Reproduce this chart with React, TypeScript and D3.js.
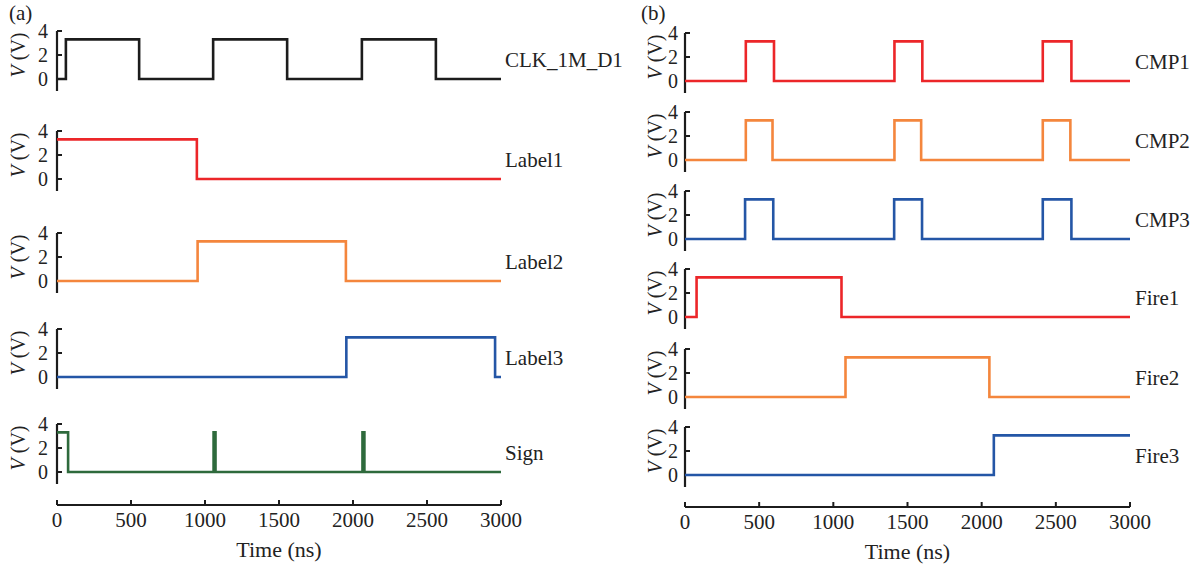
import React from 'react'
import * as d3 from 'd3'

// step signals: [time (ns), voltage] at each transition
const clk1m = [[0, 0], [60, 3.3], [555, 0], [1055, 3.3], [1555, 0], [2060, 3.3], [2560, 0], [3000, 0]]
const label1 = [[0, 3.3], [945, 0], [3000, 0]]
const label2 = [[0, 0], [950, 3.3], [1952, 0], [3000, 0]]
const label3 = [[0, 0], [1955, 3.3], [2960, 0], [3000, 0]]
const sign = [[0, 3.3], [75, 0], [1058, 3.3], [1071, 0], [2064, 3.3], [2077, 0], [3000, 0]]

const cmp1 = [[0, 0], [410, 3.3], [600, 0], [1412, 3.3], [1600, 0], [2412, 3.3], [2605, 0], [3000, 0]]
const cmp2 = [[0, 0], [410, 3.3], [590, 0], [1412, 3.3], [1592, 0], [2412, 3.3], [2598, 0], [3000, 0]]
const cmp3 = [[0, 0], [405, 3.3], [595, 0], [1410, 3.3], [1598, 0], [2412, 3.3], [2605, 0], [3000, 0]]
const fire1 = [[0, 0], [78, 3.3], [1055, 0], [3000, 0]]
const fire2 = [[0, 0], [1082, 3.3], [2052, 0], [3000, 0]]
const fire3 = [[0, 0], [2082, 3.3], [3000, 3.3]]

const xTicks = [0, 500, 1000, 1500, 2000, 2500, 3000]
const yTicks = [0, 2, 4]

const BLACK = '#1c1c1c'
const RED = '#ec2629'
const ORANGE = '#f4863d'
const BLUE = '#2456a6'
const GREEN = '#2e6a3c'

const FONT = '"Liberation Serif", "Times New Roman", serif'

const leftPanel = {
  tag: '(a)', tagX: 9, x0: 57, x1: 501, axisY: 505, labelX: 505, tickGap: 9, yLabelX: 25,
  rows: [
    { name: 'CLK_1M_D1', data: clk1m, color: BLACK, zero: 79 },
    { name: 'Label1', data: label1, color: RED, zero: 179 },
    { name: 'Label2', data: label2, color: ORANGE, zero: 281 },
    { name: 'Label3', data: label3, color: BLUE, zero: 377 },
    { name: 'Sign', data: sign, color: GREEN, zero: 472 },
  ],
}

const rightPanel = {
  tag: '(b)', tagX: 641, x0: 685, x1: 1130, axisY: 507, labelX: 1135, tickGap: 7, yLabelX: 662,
  rows: [
    { name: 'CMP1', data: cmp1, color: RED, zero: 81 },
    { name: 'CMP2', data: cmp2, color: ORANGE, zero: 160 },
    { name: 'CMP3', data: cmp3, color: BLUE, zero: 239 },
    { name: 'Fire1', data: fire1, color: RED, zero: 317 },
    { name: 'Fire2', data: fire2, color: ORANGE, zero: 397 },
    { name: 'Fire3', data: fire3, color: BLUE, zero: 475 },
  ],
}

function Panel({ panel }) {
  const x = d3.scaleLinear().domain([0, 3000]).range([panel.x0, panel.x1])
  const rowH = 12

  return (
    <g fontFamily={FONT} fill="#222">
      <text x={panel.tagX} y={20} fontSize={21}>{panel.tag}</text>

      {panel.rows.map(row => {
        const y = d3.scaleLinear().domain([-1, 4]).range([row.zero + rowH, row.zero - 4 * rowH])
        const line = d3.line()
          .x(d => x(d[0]))
          .y(d => y(d[1]))
          .curve(d3.curveStepAfter)
        return (
          <g key={row.name}>
            <line x1={panel.x0} x2={panel.x0} y1={y(-1)} y2={y(4)} stroke={BLACK} strokeWidth={2.2} />
            {yTicks.map(t => (
              <g key={t}>
                <line x1={panel.x0} x2={panel.x0 + 5} y1={y(t)} y2={y(t)} stroke={BLACK} strokeWidth={2} />
                <text x={panel.x0 - panel.tickGap} y={y(t)} dy="0.34em" textAnchor="end" fontSize={20}>{t}</text>
              </g>
            ))}
            <text
              transform={`translate(${panel.yLabelX},${y(2)}) rotate(-90)`}
              textAnchor="middle" fontSize={20}
            >
              <tspan fontStyle="italic">V</tspan> (V)
            </text>
            <path d={line(row.data)} fill="none" stroke={row.color} strokeWidth={2.6} strokeLinejoin="miter" />
            <text x={panel.labelX} y={row.zero - 12} fontSize={21}>{row.name}</text>
          </g>
        )
      })}

      <line x1={panel.x0} x2={panel.x1} y1={panel.axisY} y2={panel.axisY} stroke={BLACK} strokeWidth={2.2} />
      {xTicks.map(t => (
        <g key={t}>
          <line x1={x(t)} x2={x(t)} y1={panel.axisY} y2={panel.axisY - 5} stroke={BLACK} strokeWidth={2} />
          <text x={x(t)} y={panel.axisY + 22} textAnchor="middle" fontSize={21}>{t}</text>
        </g>
      ))}
      <text x={(panel.x0 + panel.x1) / 2} y={panel.axisY + 52} textAnchor="middle" fontSize={22}>Time (ns)</text>
    </g>
  )
}

export default function App() {
  return (
    <svg width={1202} height={565} style={{ position: 'absolute', left: 0, top: 0, background: '#fff' }}>
      <Panel panel={leftPanel} />
      <Panel panel={rightPanel} />
    </svg>
  )
}
